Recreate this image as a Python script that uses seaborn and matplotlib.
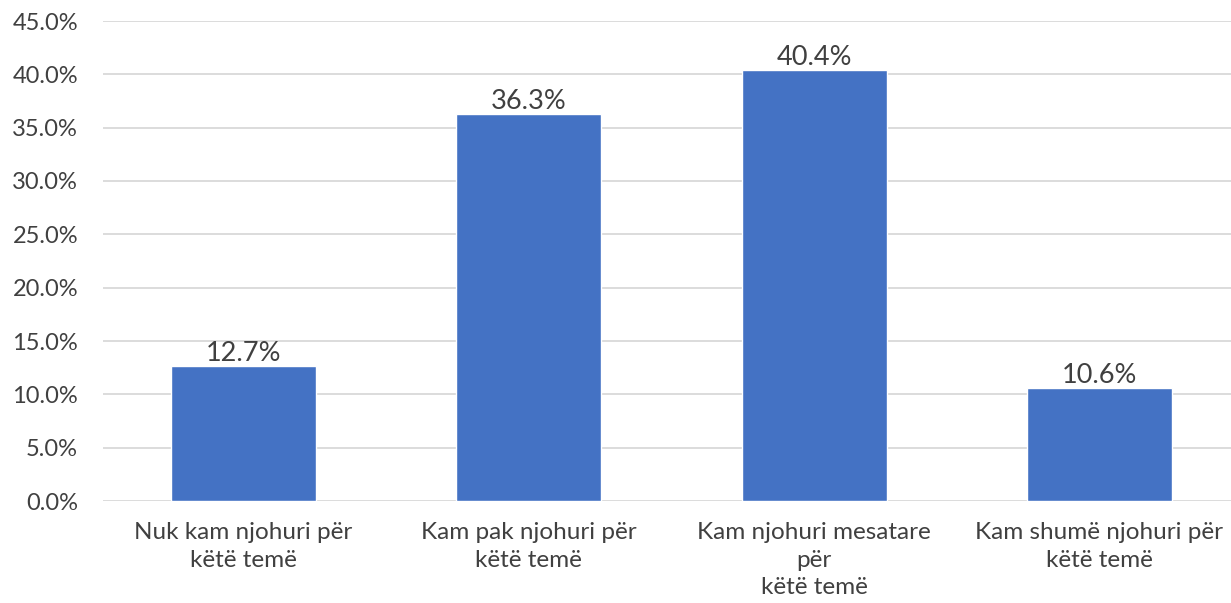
import matplotlib
matplotlib.use("Agg")
import matplotlib.pyplot as plt
import seaborn as sns
import pandas as pd
from matplotlib.ticker import FuncFormatter

categories = ["Nuk kam njohuri për\nkëtë temë",
              "Kam pak njohuri për\nkëtë temë",
              "Kam njohuri mesatare\npër\nkëtë temë",
              "Kam shumë njohuri për\nkëtë temë"]
values = [12.7, 36.3, 40.4, 10.6]

df = pd.DataFrame({"category": categories, "value": values})

sns.set_style("white")
plt.rcParams["font.family"] = ["Lato", "DejaVu Sans"]
text_color = "#404040"

fig = plt.figure(figsize=(12.31, 6.03), dpi=100)
ax = fig.add_axes([103 / 1231, 1 - 501 / 603, 1 - 103 / 1231, (501 - 21) / 603])

sns.barplot(data=df, x="category", y="value", color="#4472C4", width=0.508,
            saturation=1, ax=ax, zorder=3)

ax.set_ylim(0, 45)
ax.set_xlim(-0.492, 3.461)
ax.set_yticks(range(0, 46, 5))
ax.yaxis.set_major_formatter(FuncFormatter(lambda v, p: f"{v:.1f}%"))
ax.grid(axis="y", color="#d9d9d9", linewidth=1.3, zorder=0)
ax.set_axisbelow(True)
for s in ax.spines.values():
    s.set_visible(False)
ax.set_xlabel("")
ax.set_ylabel("")
ax.tick_params(axis="y", length=0, pad=18, labelsize=17, labelcolor=text_color)
ax.tick_params(axis="x", length=0, pad=15, labelsize=17.5, labelcolor=text_color)
for lbl in ax.get_xticklabels():
    lbl.set_linespacing(1.4)

ax.bar_label(ax.containers[0], labels=[f"{v:.1f}%" for v in values],
             fontsize=19.5, color=text_color, padding=0)

fig.savefig("out.png", dpi=100)
